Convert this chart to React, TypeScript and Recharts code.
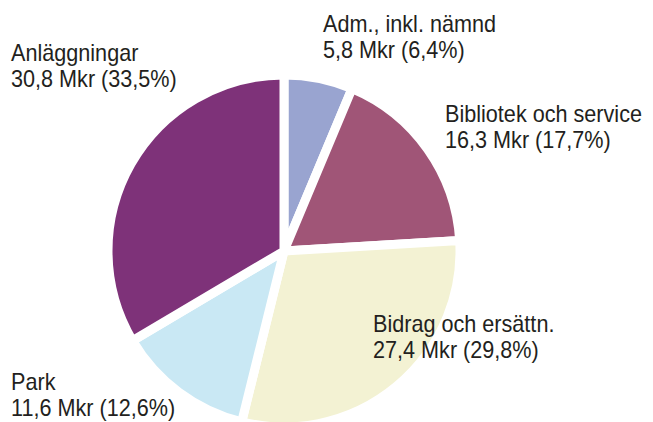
import React from "react";
import { PieChart, Pie, Cell } from "recharts";

const categories = ["Adm., inkl. nämnd", "Bibliotek och service", "Bidrag och ersättn.", "Park", "Anläggningar"];
const amounts = [5.8, 16.3, 27.4, 11.6, 30.8];
const valueLabels = ["5,8 Mkr (6,4%)", "16,3 Mkr (17,7%)", "27,4 Mkr (29,8%)", "11,6 Mkr (12,6%)", "30,8 Mkr (33,5%)"];
const colors = ["#99a4d0", "#a05577", "#f3f2d3", "#c9e8f4", "#7e3279"];

// label layout (text anchor points, baseline of first line)
const labelPos = [
  { x: 323, y: 32 },
  { x: 445, y: 122 },
  { x: 373, y: 332 },
  { x: 11, y: 390 },
  { x: 11, y: 61 },
];

const data = categories.map((name, i) => ({ name, value: amounts[i] }));

const FONT = "'Liberation Sans', Arial, sans-serif";

const renderLabel = (props: any) => {
  const i = props.index;
  const p = labelPos[i];
  return (
    <text
      transform={`translate(${p.x},${p.y}) scale(0.94,1)`}
      fill="#231f20"
      fontFamily={FONT}
      fontSize={23}
      textAnchor="start"
    >
      <tspan x={0} y={0}>{categories[i]}</tspan>
      <tspan x={0} y={26}>{valueLabels[i]}</tspan>
    </text>
  );
};

export default function App() {
  return (
    <div style={{ width: 653, height: 422, background: "#fff" }}>
      <style>{`body{margin:0;}`}</style>
      <PieChart width={653} height={422} margin={{ top: 0, right: 0, bottom: 0, left: 0 }}>
        <Pie
          data={data}
          dataKey="value"
          nameKey="name"
          cx={284}
          cy={251}
          outerRadius={176}
          startAngle={90}
          endAngle={-270}
          stroke="#ffffff"
          strokeWidth={9}
          label={renderLabel}
          labelLine={false}
          isAnimationActive={false}
        >
          {data.map((d, i) => (
            <Cell key={d.name} fill={colors[i]} />
          ))}
        </Pie>
      </PieChart>
    </div>
  );
}
